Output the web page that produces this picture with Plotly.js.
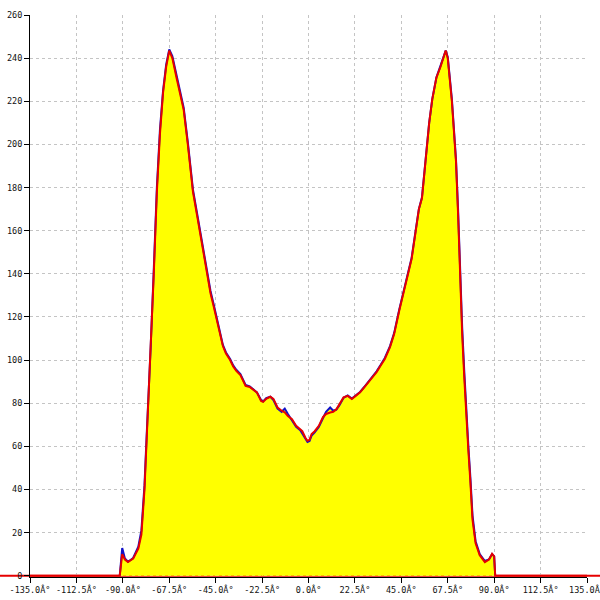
<!DOCTYPE html>
<html>
<head>
<meta charset="utf-8">
<script src="https://cdn.plot.ly/plotly-3.0.1.min.js"></script>
<style>html,body{margin:0;padding:0;background:#fff}#chart{width:600px;height:600px}</style>
</head>
<body>
<div id="chart"></div>
<script>
// angle (degrees) of each sample
const anglesRed = [-135, -91.5, -90.3, -89, -87.5, -85, -82.5, -81, -79.5, -78.5, -77.5, -76.5, -75, -73.5, -72, -70.5, -69, -67.5, -66, -64, -62, -60.5, -58.5, -56, -54, -52.5, -50.5, -49, -47.5, -46, -44.5, -43, -41.5, -40, -38, -36.5, -35, -33, -30.5, -28.5, -26.5, -25, -23, -22, -20.5, -18.5, -17, -15, -13, -11.5, -10, -8, -6, -4, -3, -1.5, -0.5, 0.5, 1.5, 3, 5, 7, 8.5, 10.5, 12, 13.5, 15, 17, 19, 21, 23, 25, 27, 29, 31, 33, 35, 37, 39.5, 41.5, 44, 46, 48, 50, 52, 53.5, 55, 57, 58.5, 60, 62, 64, 65.5, 66.5, 67.5, 68.5, 69.5, 70.5, 71.5, 72.5, 73.5, 74.5, 75.5, 76.5, 77.5, 78.5, 79.5, 81, 83, 85.5, 87.5, 89, 90, 90.5, 135];
const valuesRed = [0, 0, 10, 7.5, 6.3, 7.9, 12.5, 19, 40, 62, 80, 104, 140, 178, 205, 224, 236, 243.5, 240, 231, 222, 216, 200, 178, 167, 159, 148, 140, 131, 125, 119, 112, 106.5, 103, 100, 97, 95, 93, 88, 87.5, 86, 85, 81, 80.6, 82, 83, 82, 78, 76.5, 75.7, 74, 72.6, 69.5, 68, 67, 64, 62.6, 63, 65.7, 67, 69.5, 73.5, 75, 75.7, 76, 77.2, 79.5, 82.7, 83.4, 81.9, 83.5, 85, 87.3, 89.5, 92, 94.4, 97.5, 100.5, 106, 112, 123, 131, 138, 147, 160, 170, 175, 196, 210, 221, 231, 236, 240, 243.5, 240, 231, 220, 206, 192, 168, 139, 112, 92, 72, 58, 43, 26, 15, 9.5, 6.3, 7.5, 10.2, 9, 0, 0];
const anglesBlue = [-91.5, -90.3, -89, -87.5, -85, -82.5, -81, -79.5, -78.5, -77.5, -76.5, -75, -73.5, -72, -70.5, -69, -67.5, -66, -64, -62, -60.5, -58.5, -56, -54, -52.5, -50.5, -49, -47.5, -46, -44.5, -43, -41.5, -40, -38, -36.5, -35, -33, -30.5, -28.5, -26.5, -25, -23, -22, -20.5, -18.5, -17, -15, -13, -11.5, -10, -8, -6, -4, -3, -1.5, -0.5, 0.5, 1.5, 3, 5, 7, 8.5, 10.5, 12, 13.5, 15, 17, 19, 21, 23, 25, 27, 29, 31, 33, 35, 37, 39.5, 41.5, 44, 46, 48, 50, 52, 53.5, 55, 57, 58.5, 60, 62, 64, 65.5, 66.5, 67.5, 68.5, 69.5, 70.5, 71.5, 72.5, 73.5, 74.5, 75.5, 76.5, 77.5, 78.5, 79.5, 81, 83, 85.5, 87.5, 89, 90, 90.5];
const valuesBlue = [0, 12.8, 8, 6.5, 8.2, 13.5, 21, 42, 64, 82, 106, 142, 180, 207, 225, 237, 244, 241, 232, 223, 217, 201, 179, 168, 160, 149, 141, 132, 126, 120, 113, 107, 103.5, 100.5, 97.5, 95.5, 93.5, 88.5, 87.8, 86.3, 85, 81.5, 80.8, 82.3, 83, 81.5, 77.5, 76, 77.5, 75, 72, 69, 67.5, 66, 63.5, 62, 62.5, 65, 66.5, 69, 73, 76, 78, 76.5, 77, 79, 82.5, 83.6, 82.2, 83.5, 85.2, 87.5, 89.8, 92.3, 94.8, 97.8, 101, 106.5, 112.5, 123.5, 131.5, 138.5, 147.5, 160.5, 170, 175.5, 196.5, 210, 221, 231, 236.5, 240.5, 243.5, 240.5, 231.5, 221, 207, 193, 170, 141, 115, 95, 75, 60, 45, 28, 16, 10, 6.8, 7.6, 10, 9, 0];
const yTicks = [0, 20, 40, 60, 80, 100, 120, 140, 160, 180, 200, 220, 240, 260];
const xTickVals = [-135, -112.5, -90, -67.5, -45, -22.5, 0, 22.5, 45, 67.5, 90, 112.5, 135];
const xTickText = ["-135.0Â°", "-112.5Â°", "-90.0Â°", "-67.5Â°", "-45.0Â°", "-22.5Â°", "0.0Â°", "22.5Â°", "45.0Â°", "67.5Â°", "90.0Â°", "112.5Â°", "135.0Â°"];

const traces = [
  {x: anglesBlue, y: valuesBlue, type: 'scatter', mode: 'lines', fill: 'tozeroy',
   fillcolor: '#ffff00', line: {color: '#1010c8', width: 2}, hoverinfo: 'skip'},
  {x: anglesRed, y: valuesRed, type: 'scatter', mode: 'lines',
   line: {color: '#e60000', width: 2}, hoverinfo: 'skip'}
];

const tickFont = {family: '"DejaVu Sans Mono", "Liberation Mono", monospace', size: 8.5, color: '#111'};
const layout = {
  width: 600, height: 600,
  margin: {l: 30, r: 13, t: 15, b: 23, pad: 0},
  paper_bgcolor: '#ffffff', plot_bgcolor: '#ffffff',
  showlegend: false,
  xaxis: {
    range: [-135, 135], tickmode: 'array', tickvals: xTickVals, ticktext: xTickText,
    showgrid: true, gridcolor: '#c4c4c4', griddash: '3px,3px', gridwidth: 1,
    zeroline: false, showline: true, linecolor: '#000', linewidth: 1,
    ticks: 'outside', ticklen: 5, tickcolor: '#000', tickfont: tickFont, fixedrange: true,
    ticklabeloverflow: 'allow', automargin: false
  },
  yaxis: {
    range: [-0.6, 260], tickmode: 'array', tickvals: yTicks,
    showgrid: true, gridcolor: '#c4c4c4', griddash: '3px,3px', gridwidth: 1,
    zeroline: false, showline: true, linecolor: '#000', linewidth: 1,
    ticks: 'outside', ticklen: 5, tickcolor: '#000', tickfont: tickFont, fixedrange: true,
    ticklabeloverflow: 'allow', automargin: false
  },
  shapes: [
    {type: 'line', xref: 'paper', yref: 'y', x0: -0.06, x1: 1.03, y0: 0, y1: 0,
     line: {color: '#e60000', width: 2}, layer: 'below'}
  ]
};
Plotly.newPlot('chart', traces, layout, {staticPlot: true, displayModeBar: false});
</script>
</body>
</html>
